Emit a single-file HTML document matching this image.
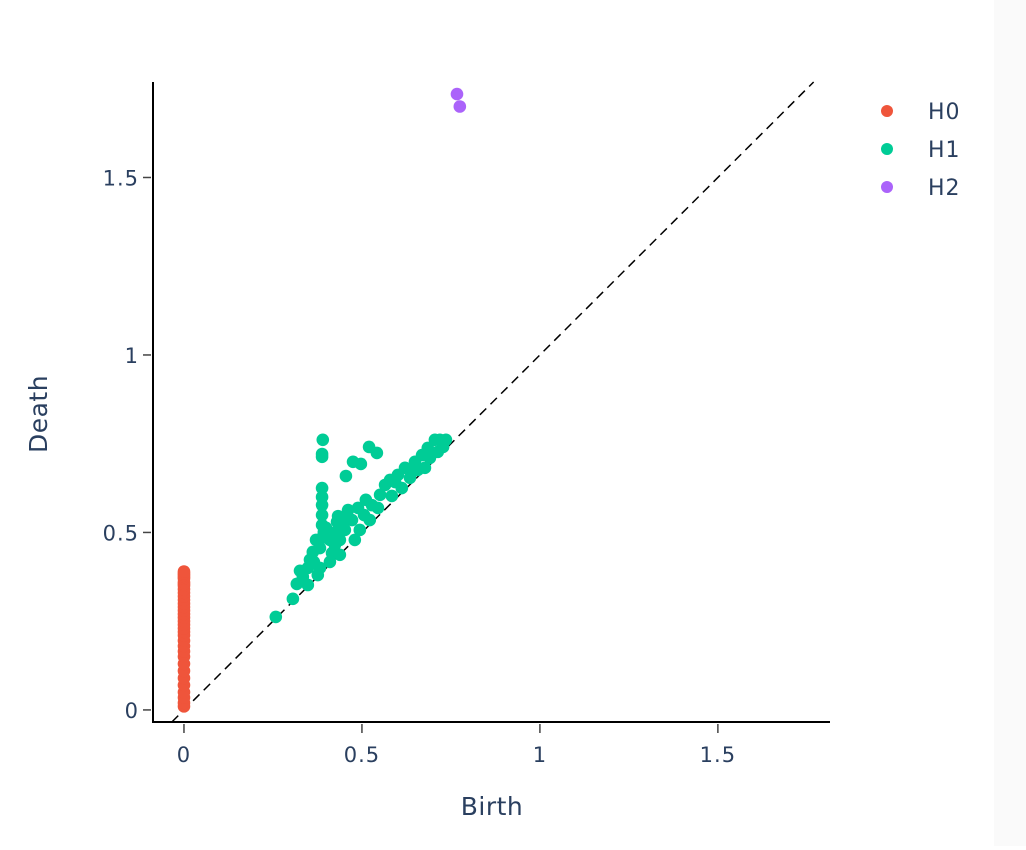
<!DOCTYPE html>
<html><head><meta charset="utf-8">
<style>
html,body{margin:0;padding:0;background:#fff;}
body{width:1026px;height:846px;overflow:hidden;font-family:"DejaVu Sans","Liberation Sans",sans-serif;}
</style></head>
<body>
<svg id="chart" width="1026" height="846" xmlns="http://www.w3.org/2000/svg" font-family="DejaVu Sans, Liberation Sans, sans-serif">
<rect x="0" y="0" width="1026" height="846" fill="#fff"/>
<rect x="994" y="0" width="32" height="846" fill="#fafafa"/>
<g id="plot"></g>
</svg>
<script>
const xTicks=[0,0.5,1,1.5];
const yTicks=[0,0.5,1,1.5];
const xTickLabels=["0","0.5","1","1.5"];
const yTickLabels=["0","0.5","1","1.5"];
const h0Births=[0,0,0,0,0,0,0,0,0,0,0,0,0,0,0,0,0,0,0,0,0,0,0,0,0,0,0,0,0,0,0,0,0,0];
const h0Deaths=[0.01,0.02,0.035,0.05,0.07,0.09,0.11,0.13,0.15,0.165,0.18,0.195,0.21,0.22,0.23,0.24,0.25,0.26,0.27,0.28,0.29,0.3,0.31,0.32,0.33,0.34,0.35,0.355,0.36,0.37,0.375,0.38,0.385,0.39];
const h1Births=[0.258,0.306,0.317,0.334,0.326,0.348,0.354,0.362,0.382,0.371,0.388,0.393,0.388,0.388,0.388,0.388,0.388,0.388,0.388,0.390,0.433,0.455,0.475,0.497,0.520,0.542,0.410,0.424,0.438,0.416,0.382,0.452,0.472,0.489,0.506,0.528,0.522,0.551,0.565,0.584,0.601,0.621,0.635,0.649,0.669,0.685,0.705,0.719,0.728,0.713,0.677,0.612,0.545,0.480,0.438,0.410,0.376,0.348,0.449,0.494,0.579,0.657,0.691,0.736,0.399,0.427,0.461,0.511,0.593,0.640,0.430,0.365];
const h1Deaths=[0.262,0.313,0.355,0.375,0.392,0.400,0.423,0.445,0.456,0.479,0.485,0.501,0.521,0.549,0.577,0.600,0.625,0.713,0.721,0.761,0.546,0.659,0.699,0.693,0.741,0.724,0.479,0.465,0.479,0.442,0.400,0.507,0.535,0.569,0.549,0.577,0.535,0.606,0.634,0.603,0.662,0.682,0.654,0.699,0.718,0.738,0.761,0.761,0.741,0.727,0.682,0.625,0.569,0.479,0.437,0.417,0.380,0.352,0.535,0.507,0.648,0.676,0.710,0.761,0.513,0.501,0.563,0.592,0.642,0.670,0.530,0.417];
const h2Births=[0.767,0.775];
const h2Deaths=[1.735,1.70];
const seriesNames=["H0","H1","H2"];
const seriesColors=["#EF553B","#00CC96","#AB63FA"];

const NS="http://www.w3.org/2000/svg";
const X0=153,X1=830,Y0=722,Y1=82;
const xMin=-0.087,xMax=1.815,yMin=-0.034,yMax=1.769;
function xs(v){return X0+(v-xMin)/(xMax-xMin)*(X1-X0);}
function ys(v){return Y0-(v-yMin)/(yMax-yMin)*(Y0-Y1);}
const g=document.getElementById('plot');
function mk(tag,attrs,parent){const e=document.createElementNS(NS,tag);for(const k in attrs)e.setAttribute(k,attrs[k]);(parent||g).appendChild(e);return e;}

const lo=Math.max(xMin,yMin),hi=Math.min(xMax,yMax);
const diag=mk('line',{x1:xs(lo),y1:ys(lo),x2:xs(hi),y2:ys(hi),stroke:'#000','stroke-width':1.5,'stroke-dasharray':'9,6'});



function drawSeries(bx,dy,color,name){
  const sg=mk('g',{});
  
  
  for(let i=0;i<bx.length;i++){
    const c=mk('circle',{cx:xs(bx[i]),cy:ys(dy[i]),r:6.3,fill:color},sg);
    
    
  }
}
drawSeries(h0Births,h0Deaths,seriesColors[0],'h0');
drawSeries(h1Births,h1Deaths,seriesColors[1],'h1');
drawSeries(h2Births,h2Deaths,seriesColors[2],'h2');

const ya=mk('line',{x1:X0,y1:Y1,x2:X0,y2:Y0+1,stroke:'#000','stroke-width':2});


const xa=mk('line',{x1:X0-1,y1:Y0,x2:X1,y2:Y0,stroke:'#000','stroke-width':2});



xTicks.forEach((t,i)=>{
  const tk=mk('line',{x1:xs(t),y1:Y0+2,x2:xs(t),y2:Y0+11,stroke:'#444','stroke-width':1.5});
  
  
  const tx=mk('text',{x:xs(t),y:762,'text-anchor':'middle','font-size':21,'letter-spacing':1,fill:'#2a3f5f'});
  tx.textContent=xTickLabels[i];
  
  
});
yTicks.forEach((t,i)=>{
  const tk=mk('line',{x1:X0-10,y1:ys(t),x2:X0-2,y2:ys(t),stroke:'#444','stroke-width':1.5});
  
  
  const tx=mk('text',{x:139,y:ys(t)+8,'text-anchor':'end','font-size':21,'letter-spacing':1,fill:'#2a3f5f'});
  tx.textContent=yTickLabels[i];
  
  
});
const xt=mk('text',{x:492,y:815,'text-anchor':'middle','font-size':25,'letter-spacing':0.5,fill:'#2a3f5f'});
xt.textContent='Birth';


const yt=mk('text',{x:0,y:0,'text-anchor':'middle','font-size':25,'letter-spacing':0.5,fill:'#2a3f5f',transform:'translate(47,414) rotate(-90)'});
yt.textContent='Death';



seriesNames.forEach((n,i)=>{
  const lg=mk('g',{});
  
  
  const y=111+i*38;
  mk('circle',{cx:887,cy:y,r:6,fill:seriesColors[i]},lg);
  const t=mk('text',{x:928,y:y+8,'font-size':22,'letter-spacing':1,fill:'#2a3f5f'},lg);
  t.textContent=n;
});
</script>
</body></html>
